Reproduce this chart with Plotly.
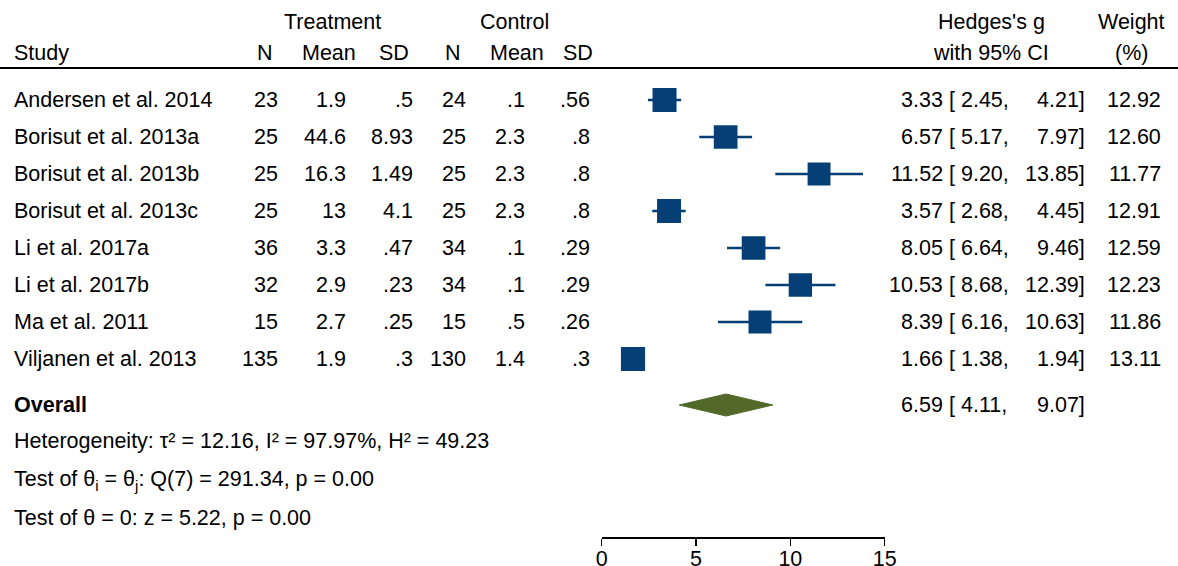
import plotly.graph_objects as go

# ---------------- data ----------------
studies = ["Andersen et al. 2014", "Borisut et al. 2013a", "Borisut et al. 2013b",
           "Borisut et al. 2013c", "Li et al. 2017a", "Li et al. 2017b",
           "Ma et al. 2011", "Viljanen et al. 2013"]
t_n = ["23", "25", "25", "25", "36", "32", "15", "135"]
t_mean = ["1.9", "44.6", "16.3", "13", "3.3", "2.9", "2.7", "1.9"]
t_sd = [".5", "8.93", "1.49", "4.1", ".47", ".23", ".25", ".3"]
c_n = ["24", "25", "25", "25", "34", "34", "15", "130"]
c_mean = [".1", "2.3", "2.3", "2.3", ".1", ".1", ".5", "1.4"]
c_sd = [".56", ".8", ".8", ".8", ".29", ".29", ".26", ".3"]
g = [3.33, 6.57, 11.52, 3.57, 8.05, 10.53, 8.39, 1.66]
lo = [2.45, 5.17, 9.20, 2.68, 6.64, 8.68, 6.16, 1.38]
hi = [4.21, 7.97, 13.85, 4.45, 9.46, 12.39, 10.63, 1.94]
weight = [12.92, 12.60, 11.77, 12.91, 12.59, 12.23, 11.86, 13.11]
overall = 6.59
overall_lo = 4.11
overall_hi = 9.07
het_text = "Heterogeneity: τ² = 12.16, I² = 97.97%, H² = 49.23"
test1_text = "Test of θ<sub>i</sub> = θ<sub>j</sub>: Q(7) = 291.34, p = 0.00"
test2_text = "Test of θ = 0: z = 5.22, p = 0.00"
xticks = [0, 5, 10, 15]

# ---------------- layout constants ----------------
W, H = 1178, 566
FONT = "Liberation Sans, Arial, Helvetica, sans-serif"
FS = 21.5
NAVY = "#063f75"
GREEN = "#52692a"
row0, dy = 100, 37
rows_y = [row0 + dy * i for i in range(len(studies))]
overall_y = 405
het_y, t1_y, t2_y = 441, 480, 518
axis_y = 537
x0px, x15px = 601.7, 884.7

def px(x):
    return x / W

fig = go.Figure()

# CI lines
for yi, l, h in zip(rows_y, lo, hi):
    fig.add_trace(go.Scatter(x=[l, h], y=[yi, yi], mode="lines",
                             line=dict(color=NAVY, width=2.5),
                             hoverinfo="skip", showlegend=False))
# squares
sizes = [24 * (w / 12.92) ** 0.5 for w in weight]
fig.add_trace(go.Scatter(x=g, y=rows_y, mode="markers",
                         marker=dict(symbol="square", size=sizes, color=NAVY,
                                     opacity=1, line=dict(width=0)),
                         showlegend=False))
# diamond
half_h = 11
fig.add_trace(go.Scatter(x=[overall_lo, overall, overall_hi, overall, overall_lo],
                         y=[overall_y, overall_y - half_h, overall_y, overall_y + half_h, overall_y],
                         mode="lines", fill="toself", fillcolor=GREEN,
                         line=dict(color=GREEN, width=1), showlegend=False))

ann = []
def text(xp, y, s, anchor="right", bold=False):
    ann.append(dict(x=px(xp), y=y, xref="paper", yref="y", text=("<b>%s</b>" % s) if bold else s,
                    showarrow=False, xanchor=anchor, yanchor="middle",
                    font=dict(family=FONT, size=FS, color="black")))

# headers
text(332, 22, "Treatment", "center")
text(514, 22, "Control", "center")
text(12, 53, "Study", "left")
text(264.5, 53, "N", "center")
text(328.5, 53, "Mean", "center")
text(394, 53, "SD", "center")
text(453, 53, "N", "center")
text(516.5, 53, "Mean", "center")
text(577.5, 53, "SD", "center")
text(991, 22, "Hedges's g", "center")
text(991, 53, "with 95% CI", "center")
text(1131, 22, "Weight", "center")
text(1131, 53, "(%)", "center")

cols = [(280, t_n), (348, t_mean), (415, t_sd), (468, c_n), (527, c_mean), (592, c_sd)]
for i, yi in enumerate(rows_y):
    text(12, yi, studies[i], "left")
    for xp, arr in cols:
        text(xp, yi, arr[i])
    text(945, yi, "%.2f" % g[i])
    text(947, yi, "[ %.2f," % lo[i], "left")
    text(1087, yi, "%.2f]" % hi[i])
    text(1163, yi, "%.2f" % weight[i])

text(12, overall_y, "Overall", "left", bold=True)
text(945, overall_y, "%.2f" % overall)
text(947, overall_y, "[ %.2f," % overall_lo, "left")
text(1087, overall_y, "%.2f]" % overall_hi)
text(12, het_y, het_text, "left")
text(12, t1_y, test1_text, "left")
text(12, t2_y, test2_text, "left")

fig.update_layout(
    width=W, height=H,
    margin=dict(l=0, r=0, t=0, b=0, autoexpand=False),
    paper_bgcolor="white", plot_bgcolor="white",
    annotations=ann,
    shapes=[dict(type="line", xref="paper", yref="y", x0=0, x1=1, y0=68, y1=68,
                 line=dict(color="black", width=2))],
    xaxis=dict(domain=[px(x0px), px(x15px)], range=[0, 15], anchor="free",
               position=(H - axis_y) / H, showline=True, linecolor="black", linewidth=1.5,
               ticks="outside", ticklen=7, tickwidth=1.5, tickcolor="black",
               tickvals=xticks, ticktext=[str(t) for t in xticks],
               ticklabelstandoff=-5,
               tickfont=dict(family=FONT, size=FS, color="black"),
               showgrid=False, zeroline=False, fixedrange=True, automargin=False),
    yaxis=dict(domain=[0, 1], range=[H, 0], visible=False, showgrid=False,
               zeroline=False, fixedrange=True, automargin=False),
    showlegend=False,
)

fig.write_html("out.html", config={"displayModeBar": False, "staticPlot": True},
               post_script="document.body.style.margin='0';document.body.style.overflow='hidden';")
